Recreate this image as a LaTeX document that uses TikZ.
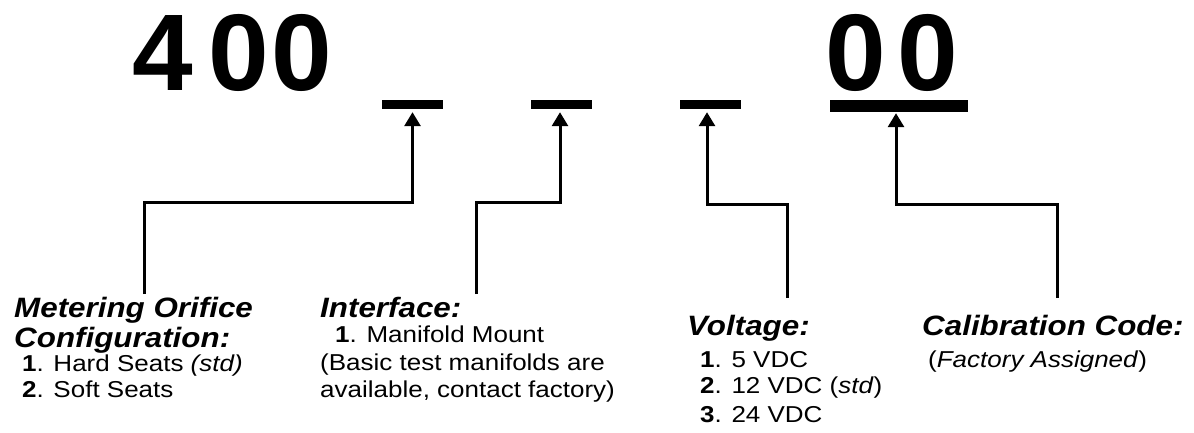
\documentclass[tikz,border=0pt]{standalone}
\usepackage{fontspec}
\setmainfont{Liberation Sans}
\newfontfamily\wideheadfont[FakeStretch=1.12]{Liberation Sans}
\newfontfamily\widebodyfont[FakeStretch=1.13]{Liberation Sans}
\usetikzlibrary{arrows.meta}
\begin{document}
\begin{tikzpicture}[x=1pt,y=-1pt,
  bar/.style={fill=black,inner sep=0pt,minimum height=9pt,minimum width=61pt},
  big/.style={font=\fontsize{109}{109}\selectfont\bfseries,inner sep=0pt,anchor=base},
  head/.style={font=\wideheadfont\fontsize{28}{28}\selectfont\bfseries\itshape,inner sep=0pt,anchor=base west},
  body/.style={font=\widebodyfont\fontsize{23}{23}\selectfont,inner sep=0pt,anchor=base west},
  conn/.style={line width=3pt,-{Triangle[length=14pt,width=16pt]}}]
\useasboundingbox (0,0) rectangle (1194,432);
% big digits
\node[big] (d1) at (163,90) {4};
\node[big] (d2) at (239,90) {0};
\node[big] (d3) at (302,90) {0};
\node[big] (d4) at (856,90) {0};
\node[big] (d5) at (928,90) {0};
% bars
\node[bar] (b1) at (412.5,104.5) {};
\node[bar] (b2) at (561.5,104.5) {};
\node[bar] (b3) at (710.5,104.5) {};
\node[bar,minimum width=138pt,minimum height=12pt] (b4) at (899,106) {};
% labels
\node[head] (h1a) at (14,317) {Metering Orifice};
\node[head] (h1b) at (14,347) {Configuration:};
\node[body] (t1a) at (22,371) {\textbf{1}. Hard Seats \textit{(std)}};
\node[body] (t1b) at (22,397) {\textbf{2}. Soft Seats};
\node[head] (h2) at (320,317) {Interface:};
\node[body] (t2a) at (335,342) {\textbf{1}. Manifold Mount};
\node[body] (t2b) at (320,370) {(Basic test manifolds are};
\node[body] (t2c) at (320,397) {available, contact factory)};
\node[head] (h3) at (687,335) {Voltage:};
\node[body] (t3a) at (700,367) {\textbf{1}. 5 VDC};
\node[body] (t3b) at (700,393) {\textbf{2}. 12 VDC (\textit{std})};
\node[body] (t3c) at (700,422) {\textbf{3}. 24 VDC};
\node[head] (h4) at (922,335) {Calibration Code:};
\node[body] (t4a) at (928,367) {(\textit{Factory Assigned})};
% connectors
\coordinate (e1) at (144,294);
\coordinate (e2) at (476,294);
\coordinate (e3) at (787,298);
\coordinate (e4) at (1057,298);
\draw[conn] (e1) -- (144,202) -| ([yshift=-3pt]b1.south);
\draw[conn] (e2) -- (476,202) -| ([xshift=-1.5pt,yshift=-3pt]b2.south);
\draw[conn] (e3) -- (787,204) -| ([xshift=-3.5pt,yshift=-3pt]b3.south);
\draw[conn] (e4) -- (1057,204) -| ([xshift=-3pt,yshift=-1pt]b4.south);
\end{tikzpicture}
\end{document}
